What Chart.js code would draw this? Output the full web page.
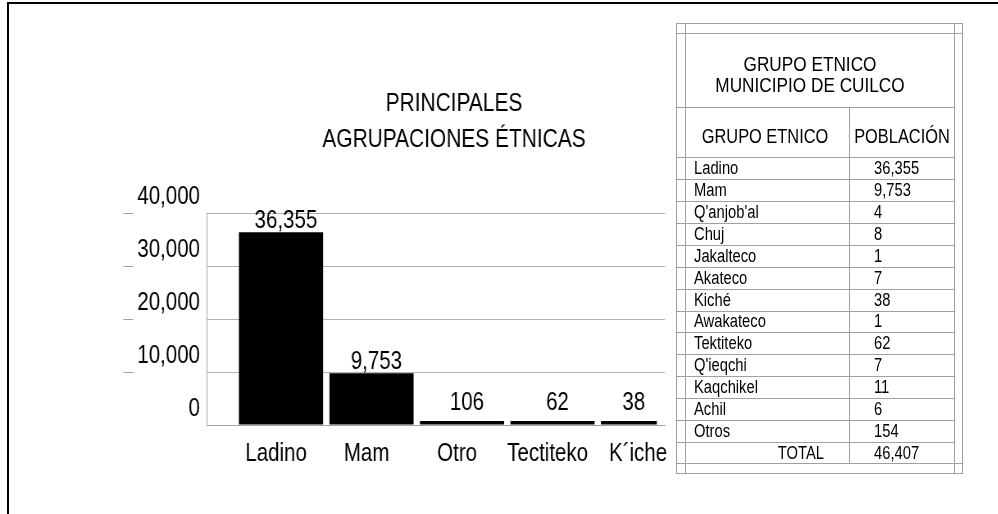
<!DOCTYPE html>
<html lang="es">
<head>
<meta charset="utf-8">
<title>Principales agrupaciones étnicas - Cuilco</title>
<script src="https://cdn.jsdelivr.net/npm/chart.js@4.4.1/dist/chart.umd.min.js"></script>
<style>
  html, body { margin: 0; padding: 0; background: #fff; }
  body { width: 998px; height: 514px; position: relative; overflow: hidden;
         font-family: "Liberation Sans", Arial, sans-serif; color: #000; }
  #marco { position: absolute; left: 7px; top: 2px; right: -4px; bottom: -4px;
           border-top: 2px solid #000; border-left: 2px solid #000; }
  /* el original usa letra angosta: se comprime la grafica en horizontal */
  #chartBox { position: absolute; left: 0; top: 0; width: 854px; height: 514px;
              transform: scaleX(0.81967); transform-origin: 0 0; }
  .ln { position: absolute; background: #a0a0a0; }
  .tx { position: absolute; white-space: nowrap; line-height: 1; }
</style>
</head>
<body>
<div id="marco"></div>
<div id="chartBox"><canvas id="grafica"></canvas></div>
<div id="tabla"></div>
<script>
// datos de la grafica
const categories = ['Ladino', 'Mam', 'Otro', 'Tectiteko', 'K´iche'];
const population = [36355, 9753, 106, 62, 38];
const yTicks = [0, 10000, 20000, 30000, 40000];
const chartTitle = ['PRINCIPALES', 'AGRUPACIONES ÉTNICAS'];

// datos del cuadro
const tableTitle = ['GRUPO ETNICO', 'MUNICIPIO DE CUILCO'];
const tableHeaders = ['GRUPO ETNICO', 'POBLACIÓN'];
const groups = ['Ladino', 'Mam', "Q'anjob'al", 'Chuj', 'Jakalteco', 'Akateco', 'Kiché',
                'Awakateco', 'Tektiteko', "Q'ieqchi", 'Kaqchikel', 'Achil', 'Otros'];
const groupPopulation = [36355, 9753, 4, 8, 1, 7, 38, 1, 62, 7, 11, 6, 154];
const total = 46407;

const family = '"Liberation Sans", Arial, sans-serif';
const squeeze = 0.81967;
const fmt = v => v.toLocaleString('en-US');

// ---- cuadro (html) ----
const tabla = document.getElementById('tabla');
function line(x, y, w, h) {
  const d = document.createElement('div');
  d.className = 'ln';
  d.style.cssText = `left:${x}px;top:${y}px;width:${w}px;height:${h}px`;
  tabla.appendChild(d);
}
function text(str, x, y, size, align) {
  const d = document.createElement('div');
  d.className = 'tx';
  d.textContent = str;
  const tx = align === 'center' ? '-50%' : align === 'right' ? '-100%' : '0';
  const org = align === 'center' ? 'center' : align === 'right' ? 'right' : 'left';
  d.style.cssText = `left:${x}px;top:${y}px;font-size:${size}px;` +
    `transform-origin:${org} center;transform:translate(${tx},-50%) scaleX(${squeeze})`;
  tabla.appendChild(d);
}

const L = 676, R = 962, T = 23, B = 473;
const iL = 685, iR = 954, colX = 849;
const rowTop = 157, rowH = 21.93;

// bordes dobles
line(L, T, R - L + 1, 1); line(L, T + 10, R - L + 1, 1);
line(L, B - 10, R - L + 1, 1); line(L, B, R - L + 1, 1);
line(L, T, 1, B - T + 1); line(iL, T, 1, B - T + 1);
line(iR, T, 1, B - T + 1); line(R, T, 1, B - T + 1);
// encabezados
line(L, 107, iR - L, 1);
line(L, rowTop, iR - L, 1);
line(colX, 107, 1, B - 10 - 107);
text(tableTitle[0], 810, 63, 21, 'center');
text(tableTitle[1], 810, 84, 21, 'center');
text(tableHeaders[0], (iL + colX) / 2 - 2, 136, 20, 'center');
text(tableHeaders[1], (colX + iR) / 2, 136, 20, 'center');
// filas
groups.forEach((g, i) => {
  const cy = rowTop + (i + 0.5) * rowH;
  text(g, 694, cy, 18, 'left');
  text(fmt(groupPopulation[i]), 874, cy, 18, 'left');
  line(L, Math.round(rowTop + (i + 1) * rowH), iR - L, 1);
});
const totY = rowTop + (groups.length + 0.5) * rowH;
text('TOTAL', 824, totY, 18, 'right');
text(fmt(total), 874, totY, 18, 'left');

// ---- grafica ----
const barClipRight = -10;

const valueLabels = {
  id: 'valueLabels',
  afterDatasetsDraw(chart) {
    const { ctx, chartArea } = chart;
    const meta = chart.getDatasetMeta(0);
    ctx.save();
    ctx.font = '25px ' + family;
    ctx.fillStyle = '#000';
    ctx.textAlign = 'center';
    ctx.textBaseline = 'alphabetic';
    meta.data.forEach((bar, i) => {
      const left = bar.x - bar.width / 2;
      const right = Math.min(bar.x + bar.width / 2, chartArea.right + barClipRight);
      const y = Math.min(bar.y - 4, chartArea.bottom - 15);
      ctx.fillText(fmt(population[i]), (left + right) / 2 + 6, y);
    });
    ctx.restore();
  }
};

// titulo en dos lineas, un poco a la derecha del centro
const titulo = {
  id: 'titulo',
  afterDraw(chart) {
    const { ctx, chartArea } = chart;
    const cx = (chartArea.left + chartArea.right) / 2 + 22;
    ctx.save();
    ctx.font = '25.5px ' + family;
    ctx.fillStyle = '#000';
    ctx.textAlign = 'center';
    ctx.textBaseline = 'middle';
    chartTitle.forEach((t, i) => ctx.fillText(t, cx, chartArea.top - 109 + i * 36));
    ctx.restore();
  }
};

// rayitas a la izquierda de las etiquetas del eje y
const tickMarks = {
  id: 'tickMarks',
  afterDraw(chart) {
    const ys = chart.scales.y;
    const ctx = chart.ctx;
    ctx.save();
    ctx.strokeStyle = '#a0a0a0';
    ctx.lineWidth = 1;
    yTicks.forEach(v => {
      if (!v) return;
      const p = Math.round(ys.getPixelForValue(v)) + 0.5;
      ctx.beginPath();
      ctx.moveTo(ys.right - 102, p);
      ctx.lineTo(ys.right - 90, p);
      ctx.stroke();
    });
    ctx.restore();
  }
};

const tickFont = { family: family, size: 25, weight: 'normal' };

new Chart(document.getElementById('grafica'), {
  type: 'bar',
  data: {
    datasets: [{
      data: categories.map((c, i) => ({ x: i, y: population[i] })),
      backgroundColor: '#000',
      barPercentage: 0.93,
      categoryPercentage: 1,
      minBarLength: 4,
      clip: { left: 0, top: 0, right: barClipRight, bottom: 0 }
    }]
  },
  options: {
    responsive: true,
    maintainAspectRatio: false,
    animation: false,
    layout: { padding: { left: 120, right: 42.7, top: 213, bottom: 39 } },
    plugins: {
      legend: { display: false },
      tooltip: { enabled: false },
      title: { display: false }
    },
    scales: {
      x: {
        type: 'linear',
        offset: false,
        min: -0.818,
        max: 4.243,
        grid: { display: false },
        border: { display: true, color: '#a0a0a0' },
        afterBuildTicks: s => { s.ticks = categories.map((c, i) => ({ value: i })); },
        ticks: {
          callback: v => categories[v],
          autoSkip: false,
          maxRotation: 0,
          padding: 6,
          labelOffset: -6,
          color: '#000',
          font: tickFont
        }
      },
      y: {
        min: 0,
        max: 40000,
        afterBuildTicks: s => { s.ticks = yTicks.map(v => ({ value: v })); },
        afterFit: s => { s.width = 132.5; },
        grid: { color: '#b0b0b0', drawTicks: false },
        border: { display: true, color: '#a0a0a0' },
        ticks: {
          padding: 8.5,
          labelOffset: -16,
          callback: v => fmt(v),
          color: '#000',
          font: tickFont
        }
      }
    }
  },
  plugins: [valueLabels, titulo, tickMarks]
});
</script>
</body>
</html>
